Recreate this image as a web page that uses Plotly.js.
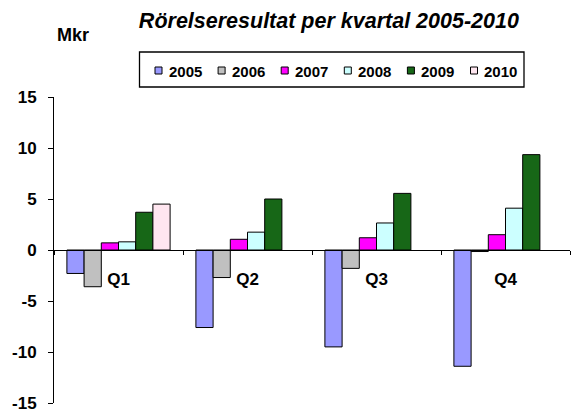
<!DOCTYPE html>
<html>
<head>
<meta charset="utf-8">
<script src="https://cdn.plot.ly/plotly-3.0.1.min.js"></script>
<style>html,body{margin:0;padding:0;background:#fff;}#chart{width:572px;height:412px;}</style>
</head>
<body>
<div id="chart"></div>
<script>
var quarters = ["Q1", "Q2", "Q3", "Q4"];
var years = ["2005", "2006", "2007", "2008", "2009", "2010"];
var v2005 = [-2.3, -7.6, -9.5, -11.4];
var v2006 = [-3.6, -2.7, -1.8, -0.15];
var v2007 = [0.7, 1.05, 1.2, 1.5];
var v2008 = [0.8, 1.75, 2.65, 4.1];
var v2009 = [3.7, 5.0, 5.55, 9.35];
var v2010 = [4.5, null, null, null];
var yTicks = [-15, -10, -5, 0, 5, 10, 15];
var colors = ["#9999FF", "#C0C0C0", "#FF00FF", "#CCFFFF", "#176717", "#FFE6F0"];

var series = [v2005, v2006, v2007, v2008, v2009, v2010];
var FONT = "Liberation Sans, Arial, sans-serif";

var W = 572, H = 412;
var M = { l: 54, r: 2, t: 97, b: 9 };
var PW = W - M.l - M.r, PH = H - M.t - M.b;
function px(x) { return (x - M.l) / PW; }
function py(y) { return (H - M.b - y) / PH; }

var data = series.map(function (vals, i) {
  return {
    type: "bar",
    name: years[i],
    x: quarters,
    y: vals,
    marker: { color: colors[i], line: { color: "#000", width: 1 } },
    hoverinfo: "skip"
  };
});

// Legend drawn as a boxed row of swatches and labels (built from years/colors)
var shapes = [{
  type: "rect", xref: "paper", yref: "paper",
  x0: px(139.5), x1: px(524), y0: py(52), y1: py(87),
  line: { color: "#000", width: 1.3 }, fillcolor: "#fff", layer: "above"
}];
var annotations = [{
  text: "<b>Mkr</b>",
  xref: "paper", yref: "paper",
  x: px(73), y: py(35),
  xanchor: "center", yanchor: "middle",
  showarrow: false,
  font: { family: FONT, size: 18, color: "#000" }
}];
var step = 63.1, sx0 = 155, sw = 7, symY = 67;
years.forEach(function (yr, i) {
  var sx = sx0 + i * step;
  shapes.push({
    type: "rect", xref: "paper", yref: "paper",
    x0: px(sx), x1: px(sx + sw), y0: py(symY), y1: py(symY + sw),
    line: { color: "#000", width: 1 }, fillcolor: colors[i], layer: "above"
  });
  annotations.push({
    text: "<b>" + yr + "</b>",
    xref: "paper", yref: "paper",
    x: px(sx + 11.5), y: py(71.5),
    xanchor: "left", yanchor: "middle",
    showarrow: false,
    font: { family: FONT, size: 15, color: "#000" }
  });
});

var layout = {
  width: W,
  height: H,
  paper_bgcolor: "#fff",
  plot_bgcolor: "#fff",
  margin: { l: M.l, r: M.r, t: M.t, b: M.b, pad: 0 },
  barmode: "group",
  bargap: 0.2,
  bargroupgap: 0,
  showlegend: false,
  font: { family: FONT, color: "#000" },
  title: {
    text: "<b><i>Rörelseresultat per kvartal 2005-2010</i></b>",
    font: { family: FONT, size: 21.5, color: "#000" },
    x: 0.575, xanchor: "center",
    y: 0.95, yanchor: "middle"
  },
  xaxis: {
    type: "category",
    range: [-0.5, 3.5],
    anchor: "free",
    position: 0.5,
    showline: true, linecolor: "#000", linewidth: 1,
    showgrid: false, zeroline: false,
    ticks: "outside", tickson: "boundaries", ticklen: 4, tickcolor: "#000",
    ticklabelstandoff: 14,
    tickfont: { family: FONT, size: 17, color: "#000", weight: "bold" },
    fixedrange: true
  },
  yaxis: {
    range: [-15, 15],
    tickvals: yTicks,
    ticktext: yTicks.map(String),
    showline: true, linecolor: "#000", linewidth: 1,
    showgrid: false, zeroline: false,
    ticks: "outside", ticklen: 5, tickcolor: "#000",
    ticklabelstandoff: 8,
    ticklabeloverflow: "allow",
    tickfont: { family: FONT, size: 17, color: "#000", weight: "bold" },
    fixedrange: true
  },
  shapes: shapes,
  annotations: annotations
};

Plotly.newPlot("chart", data, layout, { displayModeBar: false, staticPlot: true });
</script>
</body>
</html>
